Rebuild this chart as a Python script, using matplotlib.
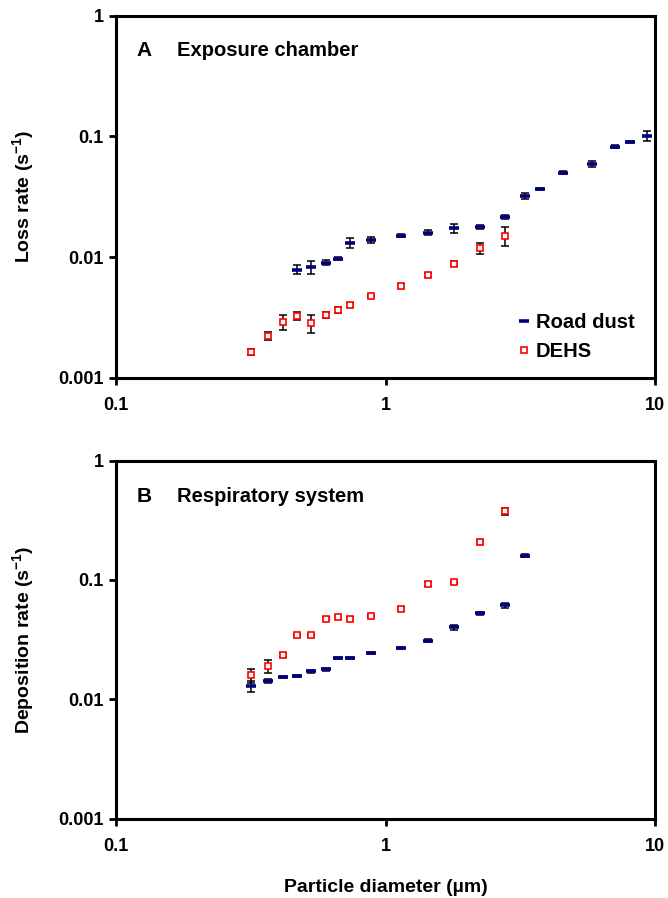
import matplotlib
matplotlib.use("Agg")
import matplotlib.pyplot as plt

plt.rcParams['font.family'] = ['Liberation Sans', 'DejaVu Sans']
plt.rcParams['font.weight'] = 'bold'
plt.rcParams['mathtext.fontset'] = 'custom'
plt.rcParams['mathtext.rm'] = 'Liberation Sans:bold'
plt.rcParams['mathtext.bf'] = 'Liberation Sans:bold'
plt.rcParams['mathtext.default'] = 'bf'

# particle diameters (um), shared size channels
diam = [0.318, 0.367, 0.416, 0.470, 0.531, 0.604, 0.665, 0.741, 0.887, 1.137,
        1.435, 1.792, 2.25, 2.77, 3.28, 3.76, 4.54, 5.86, 7.08, 8.11, 9.38]

# Panel A - exposure chamber loss rate (s-1)
a_dust_d = diam[3:]
a_dust = [0.0079, 0.0083, 0.0090, 0.0097, 0.0132, 0.0139, 0.0151, 0.0160, 0.0173,
          0.0179, 0.0217, 0.0322, 0.0367, 0.0501, 0.0592, 0.0824, 0.090, 0.101]
a_dust_err = [0.0007, 0.0010, 0.0004, 0.0003, 0.0012, 0.0008, 0.0005, 0.0008, 0.0014,
              0.0007, 0.0008, 0.0020, 0.0010, 0.0015, 0.0030, 0.0025, 0.0020, 0.010]
a_dehs_d = diam[:14]
a_dehs = [0.00164, 0.00223, 0.00291, 0.00327, 0.00284, 0.00333, 0.00366, 0.00403,
          0.00478, 0.00578, 0.00713, 0.00885, 0.0119, 0.0150]
a_dehs_err = [0.0001, 0.00015, 0.0004, 0.00025, 0.0005, 0.0002, 0.0002, 0.00015,
              0.0001, 0.0002, 0.0003, 0.0004, 0.0012, 0.0027]

# Panel B - respiratory system deposition rate (s-1)
b_dust_d = diam[:15]
b_dust = [0.0129, 0.0142, 0.0154, 0.0157, 0.0171, 0.0178, 0.0220, 0.0220, 0.0244,
          0.0271, 0.0309, 0.0400, 0.0525, 0.0612, 0.160]
b_dust_err = [0.0013, 0.0006, 0.0004, 0.0004, 0.0006, 0.0005, 0.0004, 0.0004, 0.0005,
              0.0005, 0.0008, 0.0020, 0.0015, 0.0025, 0.004]
b_dehs_d = diam[:14]
b_dehs = [0.0159, 0.0190, 0.0234, 0.0345, 0.0345, 0.0473, 0.0486, 0.0473, 0.0498,
          0.0573, 0.0929, 0.0955, 0.2067, 0.378]
b_dehs_err = [0.0022, 0.0025, 0.0010, 0.0010, 0.0010, 0.0015, 0.0015, 0.0012, 0.0010,
              0.0015, 0.004, 0.003, 0.008, 0.025]

yticks = [0.001, 0.01, 0.1, 1]
ytick_labels = ['0.001', '0.01', '0.1', '1']
xticks = [0.1, 1, 10]
xtick_labels = ['0.1', '1', '10']

fig = plt.figure(figsize=(6.68, 8.98), dpi=100)
axA = fig.add_axes([0.1737, 0.5791, 0.8068, 0.4034])
axB = fig.add_axes([0.1737, 0.0885, 0.8068, 0.3985])


def draw_panel(ax, dust_d, dust, dust_err, dehs_d, dehs, dehs_err):
    ax.errorbar(dust_d, dust, yerr=dust_err, fmt='none', ecolor='black',
                elinewidth=1.1, capsize=3, capthick=1.1, zorder=2)
    ax.errorbar(dehs_d, dehs, yerr=dehs_err, fmt='none', ecolor='black',
                elinewidth=1.1, capsize=3, capthick=1.1, zorder=2)
    ax.plot(dust_d, dust, linestyle='none', marker='_', markersize=7,
            markeredgewidth=2.6, color='#000080', label='Road dust', zorder=3)
    ax.plot(dehs_d, dehs, linestyle='none', marker='s', markersize=5,
            markerfacecolor='white', markeredgecolor='red', markeredgewidth=1.2,
            label='DEHS', zorder=4)
    ax.set_xscale('log')
    ax.set_yscale('log')
    ax.set_xlim(0.1, 10)
    ax.set_ylim(0.001, 1)
    ax.set_xticks(xticks)
    ax.set_xticklabels(xtick_labels)
    ax.set_yticks(yticks)
    ax.set_yticklabels(ytick_labels)
    ax.minorticks_off()
    ax.tick_params(direction='out', length=5, width=2, labelsize=13, pad=4)
    ax.tick_params(axis='x', pad=9)
    for s in ax.spines.values():
        s.set_linewidth(2.2)


draw_panel(axA, a_dust_d, a_dust, a_dust_err, a_dehs_d, a_dehs, a_dehs_err)
draw_panel(axB, b_dust_d, b_dust, b_dust_err, b_dehs_d, b_dehs, b_dehs_err)

axA.set_ylabel('Loss rate (s$^{-1}$)', fontsize=14, fontweight='bold', labelpad=16)
axB.set_ylabel('Deposition rate (s$^{-1}$)', fontsize=14, fontweight='bold', labelpad=16)
axB.set_xlabel('Particle diameter (µm)', fontsize=14, fontweight='bold', labelpad=17)

axA.text(0.038, 0.905, 'A', transform=axA.transAxes, fontsize=15, fontweight='heavy',
         va='center', ha='left')
axA.text(0.113, 0.905, 'Exposure chamber', transform=axA.transAxes, fontsize=14.5,
         fontweight='bold', va='center', ha='left')
axB.text(0.038, 0.901, 'B', transform=axB.transAxes, fontsize=15, fontweight='heavy',
         va='center', ha='left')
axB.text(0.113, 0.901, 'Respiratory system', transform=axB.transAxes, fontsize=14.5,
         fontweight='bold', va='center', ha='left')

axA.legend(loc='center left', bbox_to_anchor=(0.742, 0.113), frameon=False,
           handlelength=0.8, handletextpad=0.2, borderaxespad=0, borderpad=0,
           labelspacing=0.5, prop={'size': 14.5, 'weight': 'bold'})

fig.savefig('out.png', dpi=100)
